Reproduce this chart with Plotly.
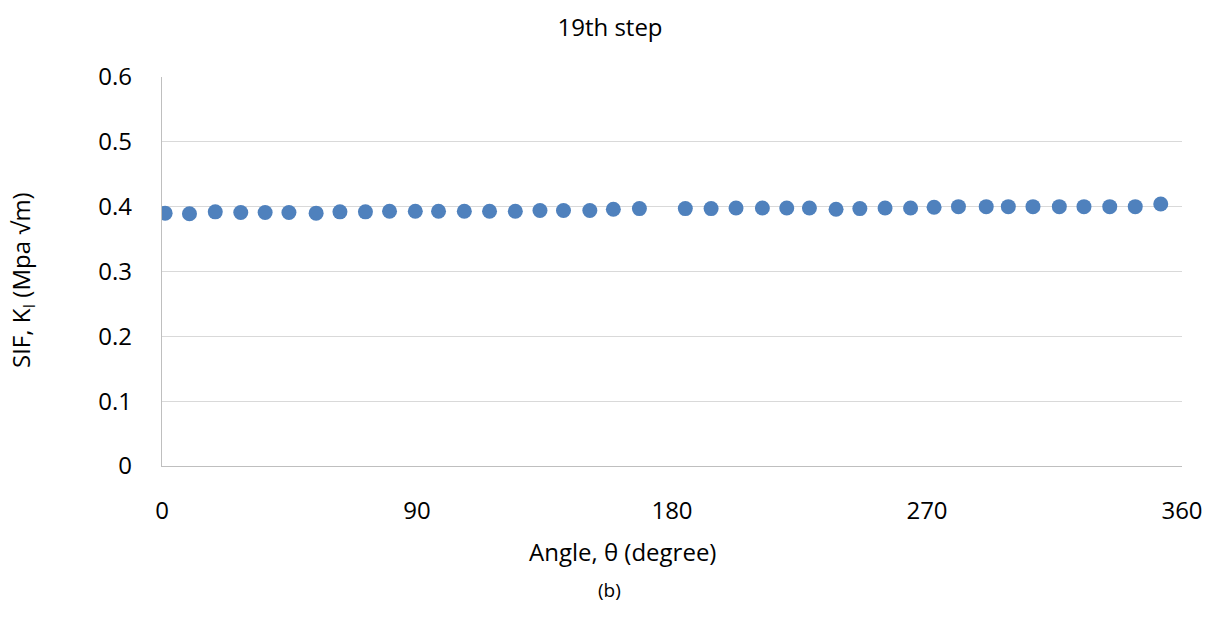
import plotly.graph_objects as go

angle = [1.1, 9.7, 18.8, 27.8, 36.4, 44.8, 54.4, 62.8, 71.8, 80.3,
         89.4, 97.6, 106.7, 115.6, 124.7, 133.4, 141.7, 151.0, 159.3, 168.5,
         184.7, 193.8, 202.6, 211.9, 220.5, 228.5, 237.9, 246.3, 255.2, 264.2,
         272.5, 281.1, 290.9, 298.7, 307.4, 316.7, 325.4, 334.5, 343.5, 352.5]
sif = [0.390, 0.389, 0.392, 0.391, 0.391, 0.391, 0.390, 0.392, 0.392, 0.393,
       0.393, 0.393, 0.393, 0.393, 0.393, 0.394, 0.394, 0.394, 0.396, 0.397,
       0.397, 0.397, 0.398, 0.398, 0.398, 0.398, 0.396, 0.397, 0.398, 0.398,
       0.399, 0.400, 0.400, 0.400, 0.400, 0.400, 0.400, 0.400, 0.400, 0.404]
x_ticks = [0, 90, 180, 270, 360]
y_ticks = [0, 0.1, 0.2, 0.3, 0.4, 0.5, 0.6]

FONT = "Open Sans"
L, R, T, B = 162, 26, 77, 162
W, H = 1208, 628
pw = W - L - R
ph = H - T - B

def px_x(px):
    return (px - L) / pw

def px_y(py):
    return (H - B - py) / ph

fig = go.Figure()
fig.add_trace(go.Scatter(
    x=angle, y=sif, mode="markers",
    marker=dict(size=15, color="#4f81bd", line=dict(width=0)),
    showlegend=False,
))

fig.update_layout(
    width=W, height=H,
    margin=dict(l=L, r=R, t=T, b=B, autoexpand=False),
    paper_bgcolor="white", plot_bgcolor="white",
    font=dict(family=FONT, color="#000000"),
    title=dict(text="19th step", x=610 / W, xref="container", xanchor="center",
               y=1 - 28 / H, yref="container", yanchor="middle",
               font=dict(size=24, family=FONT, color="#000")),
    xaxis=dict(range=[0, 360], tickvals=x_ticks, ticktext=[str(v) for v in x_ticks],
               automargin=False,
               showgrid=False, zeroline=False, showline=True, linecolor="#bfbfbf",
               linewidth=1.3, ticks="outside", ticklen=23, tickcolor="rgba(0,0,0,0)",
               tickfont=dict(size=24, family=FONT, color="#000")),
    yaxis=dict(range=[0, 0.6], tickvals=y_ticks,
               ticktext=["0", "0.1", "0.2", "0.3", "0.4", "0.5", "0.6"],
               automargin=False,
               showgrid=True, gridcolor="#d9d9d9", gridwidth=1.3,
               zeroline=False, showline=True, linecolor="#bfbfbf", linewidth=1.3,
               ticks="outside", ticklen=24, tickcolor="rgba(0,0,0,0)",
               tickfont=dict(size=24, family=FONT, color="#000")),
    annotations=[
        dict(text="Angle, θ (degree)", xref="paper", yref="paper",
             x=px_x(622), y=px_y(551), xanchor="center", yanchor="middle",
             showarrow=False, font=dict(size=24, family=FONT, color="#000")),
        dict(text="SIF, K<sub>I</sub> (Mpa √m)", xref="paper", yref="paper",
             x=px_x(22), y=px_y(280), xanchor="center", yanchor="middle",
             textangle=-90, showarrow=False,
             font=dict(size=24, family=FONT, color="#000")),
        dict(text="(b)", xref="paper", yref="paper",
             x=px_x(609), y=px_y(590), xanchor="center", yanchor="middle",
             showarrow=False, font=dict(size=19, family=FONT, color="#000")),
    ],
)

fig.write_html("out.html")
